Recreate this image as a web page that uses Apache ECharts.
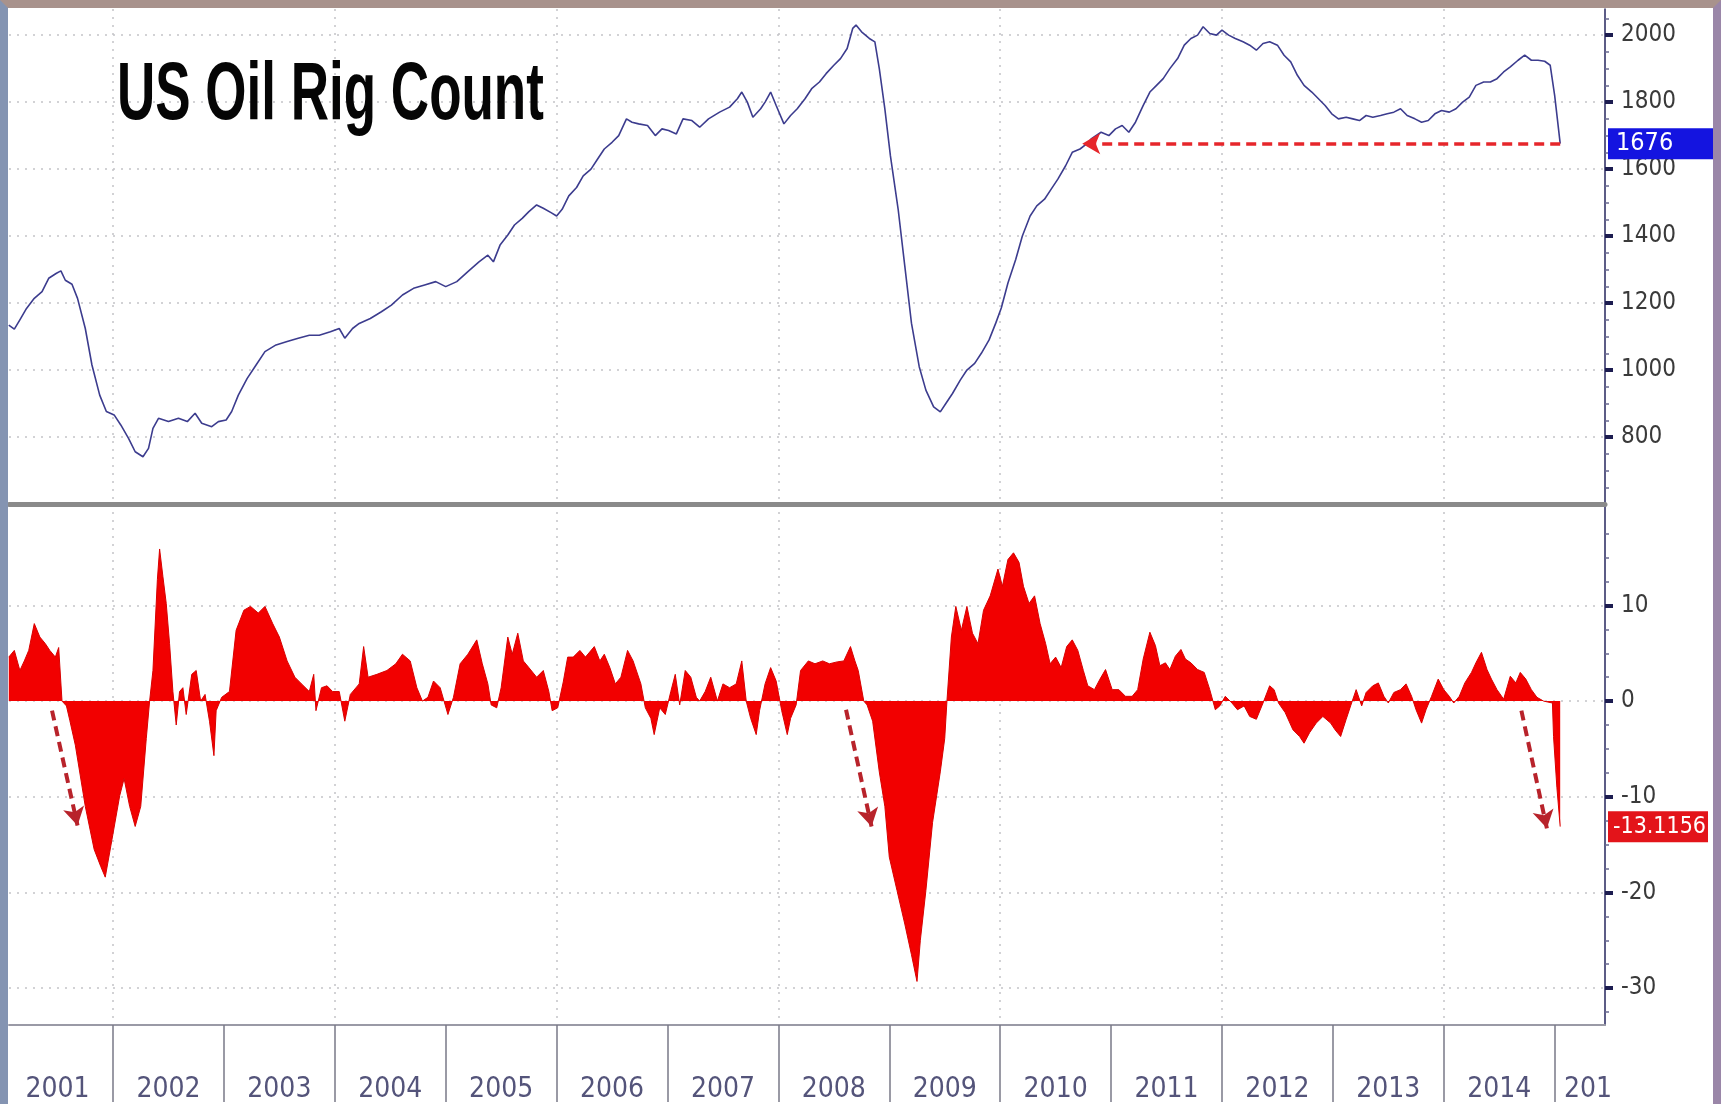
<!DOCTYPE html>
<html>
<head>
<meta charset="utf-8">
<title>US Oil Rig Count</title>
<script src="https://cdn.jsdelivr.net/npm/echarts@6/dist/echarts.min.js"></script>
<style>
  html, body { margin: 0; padding: 0; background: #fff; }
  #frame {
    width: 1721px; height: 1104px; box-sizing: border-box; background: #fff;
    border-left: 8px solid #8494b2; border-top: 8px solid #a8928c; border-right: 8px solid #9a86a8;
  }
  #chart { width: 1705px; height: 1096px; }
</style>
</head>
<body>
<div id="frame"><div id="chart"></div></div>
<script>
// weekly rig count as [year, rigs]
const rigCount = [
  [2001.06,1134],[2001.11,1122],[2001.16,1150],[2001.22,1184],[2001.29,1214],[2001.36,1234],[2001.42,1274],
  [2001.49,1289],[2001.53,1296],[2001.57,1268],[2001.63,1256],[2001.68,1214],[2001.75,1124],[2001.81,1015],
  [2001.88,925],[2001.94,876],[2002.01,866],[2002.07,836],[2002.14,796],[2002.20,756],[2002.27,741],
  [2002.32,766],[2002.36,826],[2002.41,856],[2002.50,846],[2002.59,856],[2002.67,846],[2002.74,871],
  [2002.80,841],[2002.89,831],[2002.95,846],[2003.02,851],[2003.07,876],[2003.13,925],[2003.21,975],
  [2003.29,1015],[2003.37,1055],[2003.47,1075],[2003.57,1085],[2003.67,1095],[2003.77,1104],[2003.86,1104],
  [2003.96,1114],[2004.04,1124],[2004.09,1095],[2004.16,1124],[2004.22,1139],[2004.32,1154],[2004.42,1174],
  [2004.51,1194],[2004.61,1224],[2004.71,1244],[2004.81,1254],[2004.91,1264],[2005.00,1249],[2005.10,1264],
  [2005.20,1294],[2005.30,1323],[2005.38,1343],[2005.43,1323],[2005.49,1373],[2005.56,1403],[2005.62,1433],
  [2005.69,1453],[2005.75,1473],[2005.82,1493],[2005.88,1483],[2005.95,1470],[2006.00,1460],[2006.05,1480],
  [2006.11,1520],[2006.18,1545],[2006.24,1580],[2006.31,1600],[2006.37,1630],[2006.43,1660],[2006.50,1680],
  [2006.56,1700],[2006.63,1750],[2006.68,1740],[2006.74,1735],[2006.82,1730],[2006.89,1700],[2006.95,1720],
  [2007.01,1715],[2007.08,1705],[2007.14,1750],[2007.22,1745],[2007.29,1725],[2007.37,1750],[2007.47,1770],
  [2007.56,1785],[2007.63,1810],[2007.67,1830],[2007.72,1800],[2007.77,1755],[2007.84,1780],[2007.88,1800],
  [2007.93,1830],[2007.98,1790],[2008.05,1735],[2008.11,1760],[2008.17,1780],[2008.24,1810],[2008.30,1840],
  [2008.37,1860],[2008.43,1885],[2008.50,1910],[2008.56,1930],[2008.62,1960],[2008.67,2020],[2008.70,2030],
  [2008.75,2010],[2008.82,1990],[2008.87,1980],[2008.91,1900],[2008.96,1780],[2009.01,1640],[2009.08,1480],
  [2009.14,1310],[2009.20,1140],[2009.27,1010],[2009.33,940],[2009.40,890],[2009.46,875],[2009.51,900],
  [2009.57,930],[2009.64,970],[2009.70,1000],[2009.77,1020],[2009.83,1050],[2009.90,1090],[2009.96,1140],
  [2010.01,1185],[2010.07,1260],[2010.14,1330],[2010.20,1400],[2010.27,1460],[2010.33,1490],[2010.40,1510],
  [2010.46,1540],[2010.52,1570],[2010.59,1610],[2010.65,1650],[2010.72,1660],[2010.78,1675],[2010.82,1690],
  [2010.91,1710],[2010.98,1700],[2011.04,1720],[2011.10,1730],[2011.16,1710],[2011.22,1740],[2011.29,1790],
  [2011.35,1830],[2011.41,1850],[2011.47,1870],[2011.53,1900],[2011.60,1930],[2011.66,1970],[2011.72,1990],
  [2011.78,2000],[2011.83,2025],[2011.89,2005],[2011.95,2000],[2012.00,2015],[2012.06,2000],[2012.12,1990],
  [2012.19,1980],[2012.25,1970],[2012.31,1955],[2012.37,1975],[2012.43,1980],[2012.50,1970],[2012.56,1940],
  [2012.62,1920],[2012.68,1880],[2012.74,1850],[2012.81,1830],[2012.87,1810],[2012.93,1790],[2012.99,1765],
  [2013.05,1750],[2013.12,1755],[2013.18,1750],[2013.24,1745],[2013.30,1760],[2013.36,1755],[2013.43,1760],
  [2013.49,1765],[2013.55,1770],[2013.61,1780],[2013.67,1760],[2013.74,1750],[2013.80,1740],[2013.86,1745],
  [2013.92,1765],[2013.98,1775],[2014.05,1770],[2014.11,1780],[2014.17,1800],[2014.23,1815],[2014.29,1850],
  [2014.36,1860],[2014.42,1860],[2014.48,1870],[2014.54,1890],[2014.60,1905],[2014.67,1925],[2014.73,1940],
  [2014.79,1925],[2014.85,1925],[2014.91,1922],[2014.96,1910],[2015.00,1820],[2015.05,1676]
];

// change (%) as [year, value]
const rigChange = [
  [2001.06,4.6],[2001.11,5.3],[2001.16,3.2],[2001.20,4.2],[2001.24,5.3],[2001.29,8.1],[2001.34,6.7],
  [2001.39,6.0],[2001.43,5.3],[2001.48,4.6],[2001.51,5.6],[2001.54,0],[2001.58,-0.5],[2001.61,-2.0],
  [2001.66,-4.6],[2001.75,-11.0],[2001.83,-15.5],[2001.89,-17.3],[2001.93,-18.4],[2001.99,-14.5],
  [2002.06,-9.9],[2002.10,-8.1],[2002.15,-11.0],[2002.20,-13.1],[2002.25,-11.0],[2002.30,-3.9],[2002.33,0],
  [2002.36,3.2],[2002.40,12.7],[2002.42,15.9],[2002.45,13.0],[2002.48,10.2],[2002.51,6.0],[2002.54,1.0],
  [2002.57,-2.5],[2002.60,1.0],[2002.63,1.4],[2002.66,-1.4],[2002.71,2.8],[2002.75,3.2],[2002.79,0],
  [2002.83,0.7],[2002.87,-2.1],[2002.91,-5.7],[2002.93,-1.0],[2002.98,0.4],[2003.05,1.0],[2003.11,7.4],
  [2003.18,9.5],[2003.24,9.9],[2003.31,9.2],[2003.37,9.9],[2003.44,8.1],[2003.50,6.7],[2003.57,4.2],
  [2003.64,2.5],[2003.70,1.8],[2003.77,1.0],[2003.81,2.8],[2003.83,-1.0],[2003.88,1.4],[2003.93,1.6],
  [2003.98,1.0],[2004.04,1.0],[2004.09,-2.1],[2004.14,0.7],[2004.22,1.8],[2004.26,5.7],[2004.30,2.5],
  [2004.38,2.8],[2004.47,3.2],[2004.55,3.9],[2004.61,4.9],[2004.68,4.2],[2004.74,1.4],[2004.79,0],
  [2004.84,0.4],[2004.89,2.1],[2004.95,1.4],[2005.02,-1.4],[2005.07,0.4],[2005.13,3.9],[2005.20,4.9],
  [2005.28,6.4],[2005.33,3.9],[2005.38,1.8],[2005.41,-0.4],[2005.46,-0.7],[2005.50,1.4],[2005.56,6.7],
  [2005.60,4.9],[2005.65,7.1],[2005.70,4.2],[2005.75,3.5],[2005.82,2.5],[2005.88,3.2],[2005.93,1.0],
  [2005.96,-1.0],[2006.01,-0.7],[2006.06,2.0],[2006.10,4.6],[2006.15,4.6],[2006.21,5.3],[2006.26,4.6],
  [2006.34,5.7],[2006.39,4.2],[2006.43,4.9],[2006.48,3.5],[2006.53,1.8],[2006.58,2.5],[2006.64,5.3],
  [2006.69,4.2],[2006.76,1.8],[2006.80,-0.7],[2006.85,-1.8],[2006.88,-3.5],[2006.93,-0.7],[2006.98,-1.4],
  [2007.03,1.0],[2007.07,2.8],[2007.11,-0.4],[2007.16,3.2],[2007.21,2.5],[2007.26,0.4],[2007.29,0],
  [2007.34,1.0],[2007.39,2.5],[2007.45,0],[2007.50,1.8],[2007.56,1.4],[2007.62,1.8],[2007.67,4.2],
  [2007.71,0],[2007.75,-1.8],[2007.80,-3.5],[2007.83,-1.0],[2007.88,1.8],[2007.93,3.5],[2007.98,2.1],
  [2008.03,-1.0],[2008.08,-3.5],[2008.11,-1.8],[2008.16,-0.4],[2008.20,3.2],[2008.27,4.2],[2008.33,3.9],
  [2008.40,4.2],[2008.46,3.9],[2008.53,4.1],[2008.59,4.2],[2008.65,5.7],[2008.69,4.2],[2008.72,3.2],
  [2008.77,0],[2008.80,-0.4],[2008.85,-2.1],[2008.91,-7.4],[2008.96,-11.0],[2009.00,-16.3],[2009.07,-19.8],
  [2009.14,-23.3],[2009.20,-26.5],[2009.25,-29.3],[2009.28,-25.0],[2009.33,-19.8],[2009.39,-12.7],
  [2009.46,-7.4],[2009.50,-3.9],[2009.52,0],[2009.56,6.7],[2009.60,9.9],[2009.65,7.4],[2009.70,9.9],
  [2009.75,7.1],[2009.80,6.0],[2009.85,9.5],[2009.91,11.0],[2009.98,13.8],[2010.02,12.0],[2010.07,14.8],
  [2010.12,15.5],[2010.17,14.5],[2010.21,12.0],[2010.26,10.2],[2010.31,11.0],[2010.36,8.1],[2010.41,6.0],
  [2010.45,3.9],[2010.50,4.6],[2010.55,3.5],[2010.60,5.7],[2010.65,6.4],[2010.70,5.3],[2010.75,3.2],
  [2010.79,1.6],[2010.85,1.2],[2010.90,2.3],[2010.95,3.3],[2011.01,1.2],[2011.07,1.2],[2011.13,0.5],
  [2011.19,0.5],[2011.24,1.2],[2011.29,4.4],[2011.35,7.2],[2011.40,5.8],[2011.44,3.7],[2011.49,4.0],
  [2011.53,3.3],[2011.58,4.7],[2011.63,5.4],[2011.67,4.4],[2011.72,4.0],[2011.78,3.3],[2011.84,3.0],
  [2011.89,1.2],[2011.94,-0.9],[2011.98,-0.5],[2012.03,0.5],[2012.09,-0.2],[2012.14,-0.9],[2012.20,-0.5],
  [2012.25,-1.6],[2012.31,-1.9],[2012.37,-0.2],[2012.43,1.6],[2012.47,1.2],[2012.51,-0.2],[2012.57,-1.2],
  [2012.64,-3.0],[2012.70,-3.7],[2012.74,-4.4],[2012.79,-3.3],[2012.85,-2.3],[2012.91,-1.6],[2012.98,-2.3],
  [2013.02,-3.0],[2013.07,-3.7],[2013.12,-1.9],[2013.16,-0.5],[2013.21,1.2],[2013.26,-0.5],[2013.30,0.9],
  [2013.36,1.6],[2013.41,1.9],[2013.46,0.5],[2013.50,-0.2],[2013.55,0.9],[2013.61,1.2],[2013.66,1.8],
  [2013.71,0.5],[2013.75,-0.9],[2013.80,-2.3],[2013.84,-0.9],[2013.89,0.5],[2013.95,2.3],[2014.00,1.2],
  [2014.05,0.5],[2014.09,-0.2],[2014.14,0.5],[2014.19,1.9],[2014.25,3.0],[2014.29,4.0],[2014.34,5.1],
  [2014.39,3.3],[2014.43,2.3],[2014.48,1.2],[2014.54,0.2],[2014.60,2.6],[2014.65,1.9],[2014.69,3.0],
  [2014.74,2.3],[2014.79,1.2],[2014.84,0.4],[2014.90,0],[2014.98,-0.2],[2014.99,-3.7],[2015.02,-9.0],
  [2015.05,-13.1156]
];

const yearTicks = [2001, 2002, 2003, 2004, 2005, 2006, 2007, 2008, 2009, 2010, 2011, 2012, 2013, 2014, 2015];
const yearGrid = [2002, 2004, 2006, 2008, 2010, 2012, 2014];
const yearLabelPos = [2001.5, 2002.5, 2003.5, 2004.5, 2005.5, 2006.5, 2007.5, 2008.5, 2009.5, 2010.5,
  2011.5, 2012.5, 2013.5, 2014.5, 2015.3];
const rigTicks = [800, 1000, 1200, 1400, 1600, 1800, 2000];
const rigMinorTicks = [650, 700, 750, 850, 900, 950, 1050, 1100, 1150, 1250, 1300, 1350, 1450, 1500, 1550,
  1650, 1700, 1750, 1850, 1900, 1950, 2050];
const changeTicks = [-30, -20, -10, 0, 10];
const changeMinorTicks = [-32.5, -27.5, -25, -22.5, -17.5, -15, -12.5, -7.5, -5, -2.5, 2.5, 5, 7.5, 12.5, 15, 17.5];

const lastRig = 1676;
const lastChange = -13.1156;

// arrows drawn on the chart: [from, to]
const rigArrow = [[2015.05, 1676], [2010.74, 1676]];
const changeArrows = [
  [[2001.45, -1.0], [2001.68, -13.0]],
  [[2008.61, -0.9], [2008.84, -13.1]],
  [[2014.70, -1.0], [2014.93, -13.3]]
];

const X_MIN = 2001.062, X_MAX = 2015.454;
const FONT = "'Liberation Sans Narrow', 'DejaVu Sans Condensed', 'Liberation Sans', sans-serif";

var myChart = echarts.init(document.getElementById('chart'));

var gridDots = { show: true, lineStyle: { color: '#c4c4c8', width: 1.5, type: [2, 6] } };
var hidden = 'rgba(0,0,0,0)';

function arrowLine(pair, color, width) {
  return [
    { coord: pair[0], symbol: 'none' },
    { coord: pair[1], symbol: 'arrow', symbolSize: [16, 18],
      lineStyle: { color: color, width: width, type: [10, 6] } }
  ];
}

function endLabel(value, bg, fontSize, padding) {
  return {
    yAxis: value, lineStyle: { color: hidden, width: 0 },
    label: {
      show: true, position: 'end', distance: 3, formatter: String(value),
      color: '#fff', backgroundColor: bg, fontSize: fontSize, fontFamily: FONT, padding: padding
    }
  };
}

// short extra ticks between the labelled ones
function minorAxis(gridIndex, min, max, values) {
  return {
    type: 'value', gridIndex: gridIndex, position: 'right', min: min, max: max,
    axisLine: { show: false },
    axisTick: { show: true, customValues: values, length: 4, lineStyle: { color: '#6a6a90', width: 1.5 } },
    axisLabel: { show: false },
    splitLine: { show: false }
  };
}

var option = {
  animation: false,
  backgroundColor: '#fff',
  grid: [
    { left: 1, right: 108, top: 1, height: 495 },
    { left: 1, right: 108, top: 496, bottom: 77 }
  ],
  xAxis: [
    {
      type: 'value', gridIndex: 0, min: X_MIN, max: X_MAX,
      axisLine: { show: true, onZero: false, lineStyle: { color: '#8a8a8a', width: 5 } },
      axisTick: { show: false, customValues: yearGrid },
      axisLabel: { show: false },
      splitLine: gridDots
    },
    {
      type: 'value', gridIndex: 1, min: X_MIN, max: X_MAX,
      axisLine: { show: true, onZero: false, lineStyle: { color: '#9a9aa6', width: 2 } },
      axisTick: { show: true, customValues: yearTicks, length: 77, lineStyle: { color: '#7a7a88', width: 1.5 } },
      axisLabel: {
        customValues: yearLabelPos, margin: 51, fontSize: 28, fontFamily: FONT, color: '#54547a',
        formatter: function (v) { return v > 2015 ? '201' : String(Math.floor(v)); }
      },
      splitLine: { show: false }
    },
    {
      type: 'value', gridIndex: 1, min: X_MIN, max: X_MAX,
      axisLine: { show: false },
      axisTick: { show: false, customValues: yearGrid },
      axisLabel: { show: false },
      splitLine: gridDots
    }
  ],
  yAxis: [
    {
      type: 'value', gridIndex: 0, position: 'right', min: 600, max: 2078,
      axisLine: { show: true, lineStyle: { color: '#26265e', width: 1.5 } },
      axisTick: { show: true, customValues: rigTicks, length: 8, lineStyle: { color: '#1c1c50', width: 4 } },
      axisLabel: { customValues: rigTicks, margin: 16, fontSize: 24, fontFamily: FONT, color: '#3a3a3a',
        formatter: function (v) { return String(v); } },
      splitLine: gridDots
    },
    {
      type: 'value', gridIndex: 1, position: 'right', min: -33.85, max: 20.6,
      axisLine: { show: true, lineStyle: { color: '#26265e', width: 1.5 } },
      axisTick: { show: true, customValues: changeTicks, length: 8, lineStyle: { color: '#1c1c50', width: 4 } },
      axisLabel: { customValues: changeTicks, margin: 16, fontSize: 24, fontFamily: FONT, color: '#3a3a3a',
        formatter: function (v) { return String(v); } },
      splitLine: gridDots
    },
    minorAxis(0, 600, 2078, rigMinorTicks),
    minorAxis(1, -33.85, 20.6, changeMinorTicks)
  ],
  graphic: [
    {
      type: 'text', x: 109, y: 47, scaleY: 1.55, z: 100,
      style: { text: 'US Oil Rig Count', font: 'bold 53px "Liberation Sans", Arial, sans-serif',
        fill: '#050505', verticalAlign: 'top' }
    }
  ],
  series: [
    {
      name: 'US Oil Rig Count', type: 'line', xAxisIndex: 0, yAxisIndex: 0,
      data: rigCount, showSymbol: false, symbol: 'none',
      lineStyle: { color: '#3c3c8e', width: 1.6 },
      markLine: {
        silent: true, animation: false, symbol: 'none',
        label: { show: false },
        data: [
          arrowLine(rigArrow, '#e6262b', 3.5),
          endLabel(lastRig, '#1414e0', 25, [3, 50, 3, 8])
        ]
      }
    },
    {
      name: 'Change', type: 'line', xAxisIndex: 1, yAxisIndex: 1,
      data: rigChange, showSymbol: false, symbol: 'none',
      lineStyle: { color: '#d80000', width: 1 },
      areaStyle: { color: '#f20000', opacity: 1, origin: 'auto' },
      markLine: {
        silent: true, animation: false, symbol: 'none',
        label: { show: false },
        data: changeArrows.map(function (a) { return arrowLine(a, '#b8232b', 4); })
          .concat([endLabel(lastChange, '#e3141a', 23, [4, 2, 4, 5])])
      }
    }
  ]
};

option && myChart.setOption(option);
window.addEventListener('resize', function () { myChart.resize(); });
</script>
</body>
</html>
